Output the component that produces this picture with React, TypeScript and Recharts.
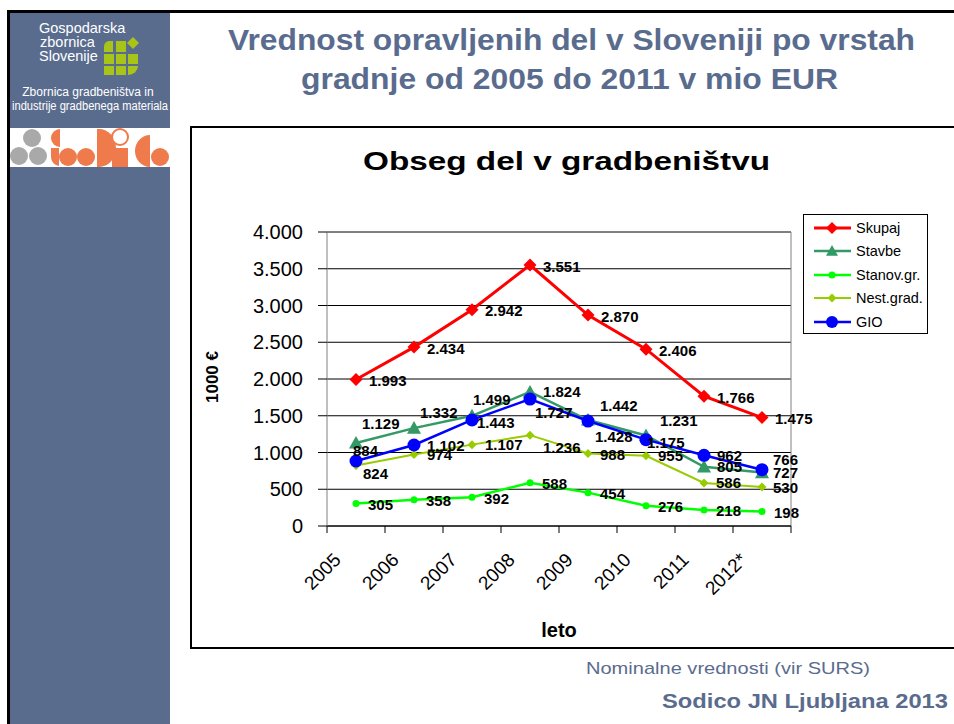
import React from "react";
import { CartesianGrid, Label, LabelList, Legend, Line, LineChart, ReferenceLine, XAxis, YAxis } from "recharts";

const FONT = '"Liberation Sans", Arial, sans-serif';
const SLATE = "#5a6c8e";

const years = ["2005", "2006", "2007", "2008", "2009", "2010", "2011", "2012*"];
const skupaj = [1993, 2434, 2942, 3551, 2870, 2406, 1766, 1475];
const stavbe = [1129, 1332, 1499, 1824, 1442, 1231, 805, 727];
const stanovGr = [305, 358, 392, 588, 454, 276, 218, 198];
const nestGrad = [824, 974, 1107, 1236, 988, 955, 586, 530];
const gio = [884, 1102, 1443, 1727, 1428, 1175, 962, 766];
const yTicks = [0, 500, 1000, 1500, 2000, 2500, 3000, 3500, 4000];

// where each value label sits relative to its point (Excel moved some of them by hand)
const skupajShift = [[13, 1], [13, 1], [13, 1], [13, 1], [13, 1], [13, 1], [13, 1], [13, 1]];
const stavbeShift = [[6, -20], [6, -16], [1, -16], [13, 0], [12, -15], [14, -15], [13, 0], [11, 0]];
const stanovShift = [[12, 1], [12, 1], [12, 1], [12, 1], [12, 1], [12, 1], [12, 1], [12, 1]];
const nestShift = [[7, 8], [13, 0], [13, 0], [13, 12], [12, 1], [12, 0], [12, 0], [11, 0]];
const gioShift = [[-3, -11], [13, 0], [5, 3], [5, 13], [7, 15], [1, 3], [13, 0], [11, -10]];

const rows = years.map((year, i) => ({
  year,
  pos: i + 0.5,
  skupaj: skupaj[i],
  stavbe: stavbe[i],
  stanovGr: stanovGr[i],
  nestGrad: nestGrad[i],
  gio: gio[i],
}));

const series = [
  { key: "skupaj", name: "Skupaj", color: "#ff0000", width: 3, shape: "diamond", size: 6.5, shifts: skupajShift },
  { key: "stavbe", name: "Stavbe", color: "#339966", width: 2.5, shape: "triangle", size: 7, shifts: stavbeShift },
  { key: "stanovGr", name: "Stanov.gr.", color: "#00ff00", width: 2.5, shape: "circle", size: 3.5, shifts: stanovShift },
  { key: "nestGrad", name: "Nest.grad.", color: "#99cc00", width: 2, shape: "diamond", size: 4.5, shifts: nestShift },
  { key: "gio", name: "GIO", color: "#0000ff", width: 2.5, shape: "circle", size: 6.5, shifts: gioShift },
];

const fmt = (v: number) =>
  v >= 1000 ? `${Math.floor(v / 1000)}.${String(v % 1000).padStart(3, "0")}` : String(v);

const Marker = ({ cx, cy, shape, size, color }: { cx: number; cy: number; shape: string; size: number; color: string }) => {
  if (shape === "diamond") {
    return <polygon points={`${cx},${cy - size} ${cx + size},${cy} ${cx},${cy + size} ${cx - size},${cy}`} fill={color} />;
  }
  if (shape === "triangle") {
    return <polygon points={`${cx},${cy - size} ${cx + size},${cy + size * 0.8} ${cx - size},${cy + size * 0.8}`} fill={color} />;
  }
  return <circle cx={cx} cy={cy} r={size} fill={color} />;
};

const makeDot = (shape: string, size: number, color: string) => (props: any) => {
  if (props.cx == null || props.cy == null) return <g key={`d-${props.index}`} />;
  return (
    <g key={`d-${shape}-${props.index}`}>
      <Marker cx={props.cx} cy={props.cy} shape={shape} size={size} color={color} />
    </g>
  );
};

const makeLabel = (shifts: number[][]) => (props: any) => {
  const x = props.x ?? props.viewBox?.x;
  const y = props.y ?? props.viewBox?.y;
  const [dx, dy] = shifts[props.index] ?? [13, 0];
  return (
    <text x={x + dx} y={y + dy} dominantBaseline="central" fontSize={15} fontWeight="bold" fill="#000" fontFamily={FONT}>
      {fmt(Number(props.value))}
    </text>
  );
};

const YearTick = (props: any) => {
  const { x, y, payload } = props;
  const label = years[payload.value];
  if (!label) return <g />;
  const ex = x + 15;
  const ey = y + 28;
  return (
    <text x={ex} y={ey} textAnchor="end" transform={`rotate(-45 ${ex} ${ey})`} fontSize={19} fill="#000" fontFamily={FONT}>
      {label}
    </text>
  );
};

const LegendBox = (props: any) => {
  const payload = props.payload || [];
  // keep the series order, not the alphabetical one
  const items = series.filter((s) => payload.some((entry: any) => entry.dataKey === s.key));
  return (
    <div style={{ boxSizing: "border-box", width: 125, height: 120, border: "1px solid #000", background: "#fff", paddingTop: 1, fontFamily: FONT }}>
      {items.map((s) => (
        <div key={s.key} style={{ display: "flex", alignItems: "center", height: 23.5, paddingLeft: 8 }}>
          <svg width={41} height={16}>
            <line x1={2} x2={39} y1={8} y2={8} stroke={s.color} strokeWidth={s.width} />
            <Marker cx={20} cy={8} shape={s.shape} size={Math.min(s.size, 6)} color={s.color} />
          </svg>
          <span style={{ marginLeft: 3, fontSize: 14.5, color: "#000" }}>{s.name}</span>
        </div>
      ))}
    </div>
  );
};

const Decorations = () => (
  <svg width={954} height={724} style={{ position: "absolute", left: 0, top: 0 }}>
    {/* slide frame and sidebar */}
    <rect x={9} y={12} width={161} height={712} fill={SLATE} />
    <rect x={7} y={10} width={947} height={3} fill="#000" />
    <rect x={7} y={10} width={3} height={714} fill="#000" />
    <text x={39} y={33} fontSize={14.5} fill="#fff" fontFamily={FONT}>Gospodarska</text>
    <text x={40} y={47} fontSize={14.5} fill="#fff" fontFamily={FONT}>zbornica</text>
    <text x={39} y={61} fontSize={14.5} fill="#fff" fontFamily={FONT}>Slovenije</text>
    <g fill="#a8c418">
      <path d="M104,52 v-6 a6,6 0 0 1 6,-5 h3 v11 z" />
      <rect x={116} y={41} width={10} height={11} />
      <polygon points="133,37 139,43 133,49 127,43" />
      <rect x={104} y={54} width={10} height={10} />
      <rect x={116} y={54} width={10} height={10} />
      <rect x={128} y={54} width={10} height={10} />
      <rect x={104} y={66} width={10} height={9} />
      <rect x={116} y={66} width={10} height={9} />
      <path d="M128,66 h10 a10,9 0 0 1 -10,9 z" />
    </g>
    <text x={88} y={96} fontSize={12} fill="#fff" textAnchor="middle" fontFamily={FONT}>Zbornica gradbeništva in</text>
    <text x={90} y={110} fontSize={12} fill="#fff" textAnchor="middle" textLength={156} lengthAdjust="spacingAndGlyphs" fontFamily={FONT}>
      industrije gradbenega materiala
    </text>
    <rect x={10} y={128} width={160} height={39} fill="#fff" />
    <g fill="#a9a9a9">
      <circle cx={32} cy={138} r={9} />
      <circle cx={19} cy={156} r={9} />
      <circle cx={38} cy={156} r={9} />
    </g>
    <g fill="#ef7a4b">
      <path d="M60,129 a9,9 0 0 0 0,18 z" />
      <circle cx={68} cy={157} r={9} />
      <path d="M51,148 h8 v18 a9,9 0 0 1 -8,-9 z" />
      <circle cx={86} cy={157} r={9} />
      <path d="M97,129 h2 a17,19 0 0 1 0,38 h-2 z" />
      <rect x={112} y={148} width={16} height={19} />
      <path d="M150,135 a15,16 0 0 0 0,32 z" />
      <circle cx={160} cy={157} r={9} />
    </g>
    <circle cx={120} cy={137} r={8} fill="#fff" stroke="#ef7a4b" strokeWidth={2} />
    {/* slide title */}
    <text x={228} y={50} fontSize={30} fontWeight="bold" fill={SLATE} textLength={687} lengthAdjust="spacingAndGlyphs" fontFamily={FONT}>
      Vrednost opravljenih del v Sloveniji po vrstah
    </text>
    <text x={301} y={89} fontSize={30} fontWeight="bold" fill={SLATE} textLength={537} lengthAdjust="spacingAndGlyphs" fontFamily={FONT}>
      gradnje od 2005 do 2011 v mio EUR
    </text>
    {/* chart frame */}
    <rect x={191} y={127} width={800} height={521} fill="#fff" stroke="#000" strokeWidth={2} />
    <text x={363} y={170} fontSize={25} fontWeight="bold" fill="#000" textLength={407} lengthAdjust="spacingAndGlyphs" fontFamily={FONT}>
      Obseg del v gradbeništvu
    </text>
    <text x={586} y={674} fontSize={17} fill={SLATE} textLength={284} lengthAdjust="spacingAndGlyphs" fontFamily={FONT}>
      Nominalne vrednosti (vir SURS)
    </text>
    <text x={662} y={708} fontSize={20} fontWeight="bold" fill={SLATE} textLength={286} lengthAdjust="spacingAndGlyphs" fontFamily={FONT}>
      Sodico JN Ljubljana 2013
    </text>
  </svg>
);

export default function App() {
  return (
    <div style={{ position: "absolute", left: 0, top: 0, width: 954, height: 724, overflow: "hidden", background: "#fff", fontFamily: FONT }}>
      <Decorations />
      <div style={{ position: "absolute", left: 0, top: 0 }}>
        <LineChart width={954} height={724} data={rows} margin={{ top: 232, right: 163, bottom: 138, left: 247 }}>
          <CartesianGrid vertical={false} stroke="#000" strokeWidth={1} />
          <XAxis
            type="number"
            dataKey="pos"
            domain={[0, years.length]}
            ticks={years.map((_, i) => i).concat(years.length)}
            interval={0}
            height={60}
            tickSize={7}
            tickMargin={0}
            axisLine={{ stroke: "#000" }}
            tickLine={{ stroke: "#000" }}
            tick={<YearTick />}
          >
            <Label
              content={(p: any) => {
                const vb = p.viewBox || {};
                return (
                  <text x={vb.x + vb.width / 2} y={vb.y + 111} textAnchor="middle" fontSize={20} fontWeight="bold" fill="#000" fontFamily={FONT}>
                    leto
                  </text>
                );
              }}
            />
          </XAxis>
          <YAxis
            type="number"
            domain={[0, 4000]}
            ticks={yTicks}
            interval={0}
            width={80}
            tickSize={9}
            tickMargin={15}
            tickFormatter={fmt}
            axisLine={{ stroke: "#808080" }}
            tickLine={{ stroke: "#000" }}
            tick={{ fontSize: 20, fill: "#000", fontFamily: FONT }}
          >
            <Label
              content={(p: any) => {
                const vb = p.viewBox || {};
                const lx = vb.x - 35;
                const ly = vb.y + vb.height / 2 - 2;
                return (
                  <text x={lx} y={ly} transform={`rotate(-90 ${lx} ${ly})`} textAnchor="middle" dominantBaseline="central" fontSize={17} fontWeight="bold" fill="#000" fontFamily={FONT}>
                    1000 €
                  </text>
                );
              }}
            />
          </YAxis>
          <ReferenceLine x={years.length} stroke="#808080" />
          <Legend
            layout="vertical"
            align="center"
            verticalAlign="middle"
            wrapperStyle={{ left: 803, top: 214, width: 125, height: 120 }}
            content={<LegendBox />}
          />
          {series.map((s) => (
            <Line
              key={s.key}
              type="linear"
              dataKey={s.key}
              name={s.name}
              stroke={s.color}
              strokeWidth={s.width}
              dot={makeDot(s.shape, s.size, s.color)}
              activeDot={false}
              isAnimationActive={false}
            >
              <LabelList dataKey={s.key} content={makeLabel(s.shifts)} />
            </Line>
          ))}
        </LineChart>
      </div>
    </div>
  );
}
